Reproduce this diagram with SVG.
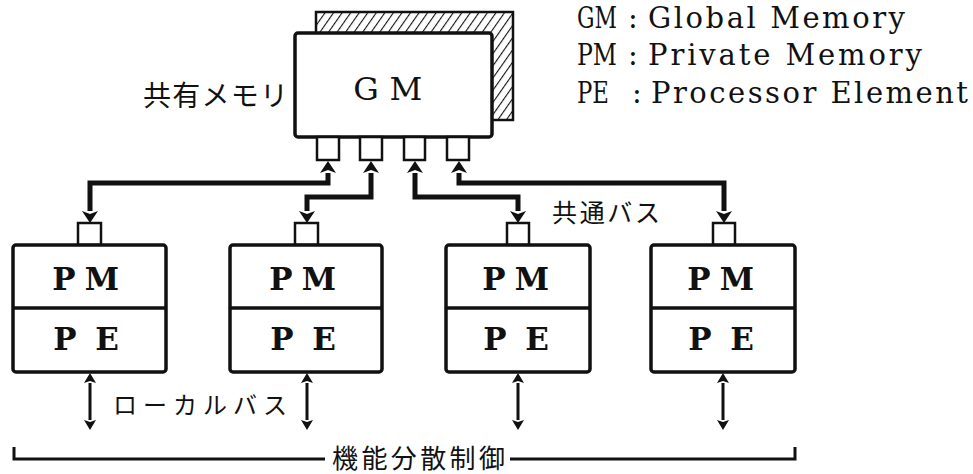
<svg xmlns="http://www.w3.org/2000/svg" width="973" height="474" viewBox="0 0 973 474">
<defs>
<style>
.box{fill:#fff;stroke:#111;stroke-width:3.5}
.port{fill:#fff;stroke:#111;stroke-width:2.5}
.bus{fill:none;stroke:#111;stroke-width:5}
.lbus{fill:none;stroke:#111;stroke-width:3}
.brk{fill:none;stroke:#111;stroke-width:3}
.lbl{font-family:"DejaVu Serif","Liberation Serif",serif;font-weight:bold;font-size:31px;fill:#111;text-anchor:middle}
.gm{font-family:"DejaVu Serif","Liberation Serif",serif;font-size:32px;fill:#111;text-anchor:middle}
.leg{font-family:"DejaVu Serif","Liberation Serif",serif;font-size:29px;fill:#111}
.jp{font-family:"Noto Sans CJK JP","Noto Sans",sans-serif;fill:#111}
</style>
<pattern id="hatch" patternUnits="userSpaceOnUse" width="7" height="7" patternTransform="rotate(35)">
<line x1="0" y1="0" x2="0" y2="7" stroke="#111" stroke-width="2.2"/>
</pattern>
<marker id="ah" markerUnits="userSpaceOnUse" viewBox="0 -8 12 16" refX="0" refY="0" markerWidth="12" markerHeight="16" orient="auto-start-reverse">
<path d="M0,-8 L12,0 L0,8 L3,0 Z" fill="#111"/>
</marker>
<marker id="ahs" markerUnits="userSpaceOnUse" viewBox="0 -6 10 12" refX="0" refY="0" markerWidth="10" markerHeight="12" orient="auto-start-reverse">
<path d="M0,-6 L10,0 L0,6 L2,0 Z" fill="#111"/>
</marker>
</defs>
<rect x="0" y="0" width="973" height="474" fill="#fff"/>

<g id="gm">
<rect x="316" y="12" width="197" height="108" fill="url(#hatch)" stroke="#111" stroke-width="2.5"/>
<rect class="box" x="295" y="33" width="197" height="104" rx="3"/>
<text class="gm" y="100"><tspan x="366">G</tspan><tspan x="406">M</tspan></text>
<rect class="port" x="317" y="137" width="22" height="23"/>
<rect class="port" x="360" y="137" width="22" height="23"/>
<rect class="port" x="404" y="137" width="21" height="23"/>
<rect class="port" x="447" y="137" width="22" height="23"/>
</g>

<g id="label-gm">
<text class="jp" x="143" y="106" font-size="28" textLength="145" lengthAdjust="spacing">共有メモリ</text>
</g>

<g id="legend">
<text class="leg" y="28"><tspan x="577" textLength="40" lengthAdjust="spacingAndGlyphs">GM</tspan><tspan x="628">:</tspan><tspan x="648" textLength="257" lengthAdjust="spacing">Global Memory</tspan></text>
<text class="leg" y="65"><tspan x="577" textLength="40" lengthAdjust="spacingAndGlyphs">PM</tspan><tspan x="628">:</tspan><tspan x="648" textLength="274" lengthAdjust="spacing">Private Memory</tspan></text>
<text class="leg" y="103"><tspan x="577" textLength="32" lengthAdjust="spacingAndGlyphs">PE</tspan><tspan x="632">:</tspan><tspan x="651" textLength="317" lengthAdjust="spacing">Processor Element</tspan></text>
</g>

<g id="pe1">
<rect class="port" x="78" y="223" width="23" height="22"/>
<rect class="box" x="13" y="245" width="153" height="127" rx="3"/>
<line x1="13" y1="308" x2="166" y2="308" stroke="#111" stroke-width="3.5"/>
<text class="lbl" y="290"><tspan x="64">P</tspan><tspan x="102">M</tspan></text>
<text class="lbl" y="350"><tspan x="65">P</tspan><tspan x="107">E</tspan></text>
</g>
<g id="pe2">
<rect class="port" x="295" y="223" width="23" height="22"/>
<rect class="box" x="230" y="245" width="152" height="127" rx="3"/>
<line x1="230" y1="308" x2="382" y2="308" stroke="#111" stroke-width="3.5"/>
<text class="lbl" y="290"><tspan x="281">P</tspan><tspan x="319">M</tspan></text>
<text class="lbl" y="350"><tspan x="282">P</tspan><tspan x="324">E</tspan></text>
</g>
<g id="pe3">
<rect class="port" x="507" y="223" width="22" height="22"/>
<rect class="box" x="446" y="245" width="144" height="127" rx="3"/>
<line x1="446" y1="308" x2="590" y2="308" stroke="#111" stroke-width="3.5"/>
<text class="lbl" y="290"><tspan x="494">P</tspan><tspan x="532">M</tspan></text>
<text class="lbl" y="350"><tspan x="495">P</tspan><tspan x="537">E</tspan></text>
</g>
<g id="pe4">
<rect class="port" x="713" y="223" width="22" height="22"/>
<rect class="box" x="651" y="245" width="144" height="127" rx="3"/>
<line x1="651" y1="308" x2="795" y2="308" stroke="#111" stroke-width="3.5"/>
<text class="lbl" y="290"><tspan x="699">P</tspan><tspan x="737">M</tspan></text>
<text class="lbl" y="350"><tspan x="700">P</tspan><tspan x="742">E</tspan></text>
</g>

<g id="connectors">
<path class="bus" d="M328,173 V183 H90 V211" marker-start="url(#ah)" marker-end="url(#ah)"/>
<path class="bus" d="M371,173 V197 H307 V211" marker-start="url(#ah)" marker-end="url(#ah)"/>
<path class="bus" d="M415,173 V197 H518 V211" marker-start="url(#ah)" marker-end="url(#ah)"/>
<path class="bus" d="M459,173 V183 H724 V211" marker-start="url(#ah)" marker-end="url(#ah)"/>
<path class="lbus" d="M90,383 V420" marker-start="url(#ahs)" marker-end="url(#ahs)"/>
<path class="lbus" d="M307,383 V420" marker-start="url(#ahs)" marker-end="url(#ahs)"/>
<path class="lbus" d="M518,383 V420" marker-start="url(#ahs)" marker-end="url(#ahs)"/>
<path class="lbus" d="M723,383 V420" marker-start="url(#ahs)" marker-end="url(#ahs)"/>
</g>

<g id="labels">
<text class="jp" x="552" y="222" font-size="25" textLength="108" lengthAdjust="spacing">共通バス</text>
<text class="jp" x="113" y="414" font-size="24" textLength="174" lengthAdjust="spacing">ローカルバス</text>
</g>

<g id="bracket">
<path class="brk" d="M14,447 V459 H325"/>
<path class="brk" d="M510,459 H795 V447"/>
<text class="jp" x="332" y="468" font-size="26" textLength="173" lengthAdjust="spacing">機能分散制御</text>
</g>
</svg>
